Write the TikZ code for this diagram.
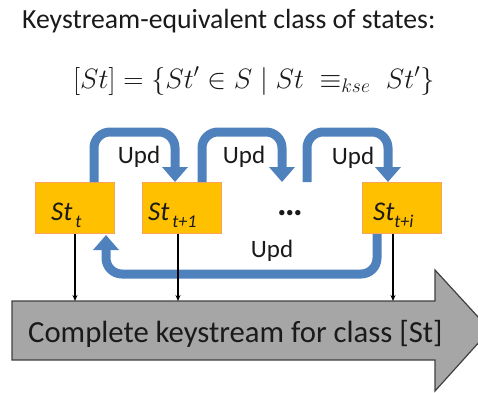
\documentclass[tikz,border=0pt]{standalone}
\usepackage{fix-cm}
\usepackage{fontspec}
\setmainfont{Carlito}
\usetikzlibrary{arrows.meta,calc}
\definecolor{updblue}{HTML}{4F81BD}
\definecolor{stfill}{HTML}{FFC000}
\definecolor{stedge}{HTML}{F4A460}
\definecolor{streamfill}{HTML}{A6A6A6}
\definecolor{streamedge}{HTML}{404040}
\definecolor{ink}{HTML}{1A1A1A}
\newcommand{\stname}[1]{{\fontsize{27}{27}\selectfont\itshape St}\raisebox{-7pt}{\fontsize{18}{18}\selectfont\itshape #1}}
\tikzset{
  statebox/.style={draw=stedge, line width=1pt, fill=stfill, minimum width=79pt, minimum height=51pt, inner sep=0pt, anchor=north west},
  statetext/.style={text=ink, inner sep=0pt, anchor=base west},
  updarrow/.style={draw=updblue, line width=9pt, rounded corners=16pt, -{Triangle[width=25pt,length=15pt]}},
  updlabel/.style={text=ink, font=\fontsize{25}{25}\selectfont, inner sep=0pt, anchor=base},
  feed/.style={line width=1.3pt, -{Stealth[length=6pt,width=5pt]}},
}
\begin{document}
\begin{tikzpicture}[x=1pt,y=-1pt]
  \useasboundingbox (0,0) rectangle (478,392);
  \clip (0,0) rectangle (478,392);

  % heading and definition
  \node[anchor=base west, inner sep=0pt, text=ink, font=\fontsize{27.7}{27.7}\selectfont] (title) at (22,28) {Keystream-equivalent class of states:};
  \node[anchor=base west, inner sep=0pt, text=ink, font=\fontsize{28}{28}\selectfont] (def) at (73,88)
    {$[St] = \{St' \in S \mid St \;\equiv_{kse}\; St'\}$};

  % keystream arrow
  \path[fill=streamfill, draw=streamedge, line width=1.2pt]
    (12,301) -- (435,301) -- (435,270) -- (490,330) -- (435,391) -- (435,360) -- (12,360) -- cycle;
  \node[inner sep=0pt, anchor=base west, text=ink, font=\fontsize{30.7}{30.7}\selectfont] (stream) at (28,342) {Complete keystream for class [St]};

  % states
  \node[statebox] (s0) at (35,182) {};
  \node[statebox] (s1) at (142,182) {};
  \node[statebox] (si) at (362,182) {};
  \node[statetext] at (51,220) {\stname{\,t}};
  \node[statetext] at (148,220) {\stname{\,t+1}};
  \node[statetext] at (373,220) {\stname{t+i}};
  \node[inner sep=0pt, anchor=base, text=ink, font=\fontsize{36}{36}\selectfont\bfseries] (dots) at (290,215) {…};
  \coordinate (dotsin) at (282,182);
  \coordinate (dotsout) at (307,182);

  % update arrows
  \draw[updarrow] ($(s0.north west)+(59,0)$) -- ++(0,-50) -| ($(s1.north west)+(33,0)$);
  \draw[updarrow] ($(s1.north west)+(60,0)$) -- ++(0,-50) -| (dotsin);
  \draw[updarrow] (dotsout) -- ++(0,-50) -| ($(si.north west)+(26,0)$);
  \draw[updarrow] ($(si.south west)+(15,0)$) -- ++(0,40) -| ($(s0.south west)+(71,1)$);
  \node[updlabel] at (139,163) {Upd};
  \node[updlabel] at (244,163) {Upd};
  \node[updlabel] at (353,164) {Upd};
  \node[updlabel] at (272,257) {Upd};

  % keystream output of each state
  \coordinate (k0) at (75,301);
  \coordinate (k1) at (178,301);
  \coordinate (ki) at (393,301);
  \draw[feed] (s0.south -| k0) -- (k0);
  \draw[feed] (s1.south -| k1) -- (k1);
  \draw[feed] (si.south -| ki) -- (ki);
\end{tikzpicture}
\end{document}
